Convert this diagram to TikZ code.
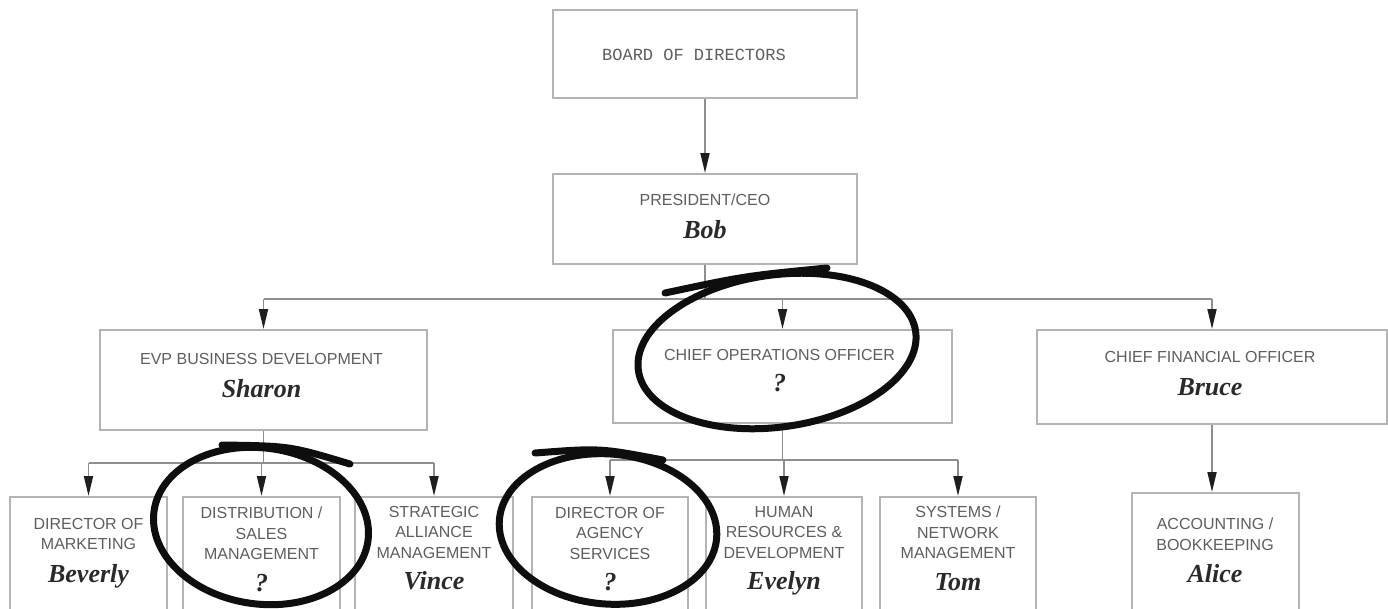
\documentclass[tikz,border=0pt]{standalone}
\usepackage{fontspec}
\setmainfont{Liberation Sans}
\newfontfamily\monof{Liberation Mono}
\newfontfamily\namef{Liberation Serif}
\usetikzlibrary{arrows.meta,calc}
\definecolor{boxc}{HTML}{B4B4B4}
\definecolor{linec}{HTML}{8E8E8E}
\definecolor{txtc}{HTML}{5E5E5E}
\definecolor{namec}{HTML}{2A2A2A}
\definecolor{arrc}{HTML}{1E1E1E}
\definecolor{inkc}{HTML}{0E0E0E}
\newcommand\nm[1]{{\color{namec}\fontsize{26}{26}\selectfont\namef\bfseries\itshape #1}}
\begin{document}
\begin{tikzpicture}[x=1pt,y=-1pt,
  box/.style={draw=boxc, line width=2pt, fill=white, inner sep=0pt},
  lbl/.style={text=txtc, font=\fontsize{16}{20.5}\selectfont, align=center, inner sep=0pt, anchor=north},
  conn/.style={draw=linec, line width=1.8pt},
  arr/.style={conn, -{Triangle[length=20pt,width=9pt,color=arrc]}},
  ink/.style={draw=inkc, line width=7pt, line cap=round}]
\useasboundingbox (0,0) rectangle (1388,608);
\fill[white] (0,0) rectangle (1388,608);
\clip (0,0) rectangle (1388,608);

% top levels
\node[box, minimum width=304pt, minimum height=88pt] (board) at (705,54) {};
\node[lbl] (boardT) at (694,49) {\monof\fontsize{17}{20}\selectfont BOARD OF DIRECTORS};
\node[box, minimum width=304pt, minimum height=90pt] (pres) at (705,219) {};
\node[lbl] (presT) at ($(pres.north)+(0,21)$) {PRESIDENT/CEO\\[12pt]\nm{Bob}};

\node[box, minimum width=327pt, minimum height=100pt] (evp) at (263.5,380) {};
\node[lbl] (evpT) at ($(evp.north)+(-2,24)$) {EVP BUSINESS DEVELOPMENT\\[13pt]\nm{Sharon}};
\node[box, minimum width=339pt, minimum height=93pt] (coo) at (782.5,376.5) {};
\node[lbl] (cooT) at ($(coo.north)+(-3,20)$) {CHIEF OPERATIONS OFFICER\\[11pt]\nm{?}};
\node[box, minimum width=350pt, minimum height=94pt] (cfo) at (1212,377) {};
\node[lbl] (cfoT) at ($(cfo.north)+(-2,22)$) {CHIEF FINANCIAL OFFICER\\[13pt]\nm{Bruce}};

% bottom row
\node[box, minimum width=157pt, minimum height=140pt, anchor=north] (mkt) at (88.5,496) {};
\node[box, minimum width=157pt, minimum height=140pt, anchor=north] (dist) at (261.5,496) {};
\node[box, minimum width=158pt, minimum height=140pt, anchor=north] (str) at (434,496) {};
\node[box, minimum width=156pt, minimum height=140pt, anchor=north] (agy) at (610,496) {};
\node[box, minimum width=156pt, minimum height=140pt, anchor=north] (hr) at (784,496) {};
\node[box, minimum width=156pt, minimum height=140pt, anchor=north] (sys) at (958,496) {};
\node[box, minimum width=167pt, minimum height=140pt, anchor=north] (acc) at (1215,492) {};

\node[lbl] (mktT) at ($(mkt.north)+(0,22)$) {DIRECTOR OF\\MARKETING\\[12pt]\nm{Beverly}};
\node[lbl] (distT) at ($(dist.north)+(0,11)$) {DISTRIBUTION /\\SALES\\MANAGEMENT\\[11pt]\nm{?}};
\node[lbl] (strT) at ($(str.north)+(0,10)$) {STRATEGIC\\ALLIANCE\\MANAGEMENT\\[11pt]\nm{Vince}};
\node[lbl] (agyT) at ($(agy.north)+(0,11)$) {DIRECTOR OF\\AGENCY\\SERVICES\\[11pt]\nm{?}};
\node[lbl] (hrT) at ($(hr.north)+(0,10)$) {HUMAN\\RESOURCES \&\\DEVELOPMENT\\[11pt]\nm{Evelyn}};
\node[lbl] (sysT) at ($(sys.north)+(0,10)$) {SYSTEMS /\\NETWORK\\MANAGEMENT\\[11pt]\nm{Tom}};
\node[lbl] (accT) at ($(acc.north)+(0,26)$) {ACCOUNTING /\\BOOKKEEPING\\[12pt]\nm{Alice}};

% connectors
\draw[arr] (board) -- (pres);
\draw[conn] (pres.south) -- ++(0,34) coordinate (bus1);
\draw[conn] (evp.north |- bus1) -- (cfo.north |- bus1);
\draw[arr] (evp.north |- bus1) -- (evp.north);
\draw[arr] (coo.north |- bus1) -- (coo.north);
\draw[arr] (cfo.north |- bus1) -- (cfo.north);

\draw[conn] (evp.south) -- ++(0,32) coordinate (bus2);
\draw[conn] (mkt.north |- bus2) -- (str.north |- bus2);
\draw[arr] (mkt.north |- bus2) -- (mkt.north);
\draw[arr] (dist.north |- bus2) -- (dist.north);
\draw[arr] (str.north |- bus2) -- (str.north);

\draw[conn] (coo.south) -- ++(0,36) coordinate (bus3);
\draw[conn] (agy.north |- bus3) -- (sys.north |- bus3);
\draw[arr] (agy.north |- bus3) -- (agy.north);
\draw[arr] (hr.north |- bus3) -- (hr.north);
\draw[arr] (sys.north |- bus3) -- (sys.north);

\draw[arr] (cfo.south) -- (cfo.south |- acc.north);

% hand-drawn circles
\draw[ink, rotate around={8:(777,351)}] (777,351) ellipse [x radius=140, y radius=76];
\draw[ink] (665,293) .. controls (745,276) .. (827,268);
\draw[ink, rotate around={-8:(261,526)}] (261,526) ellipse [x radius=108, y radius=78];
\draw[ink] (222,445) .. controls (290,446) .. (350,464);
\draw[ink, rotate around={-5:(608,529)}] (608,529) ellipse [x radius=109, y radius=75];
\draw[ink] (535,453) .. controls (600,448) .. (663,460);
\end{tikzpicture}
\end{document}
